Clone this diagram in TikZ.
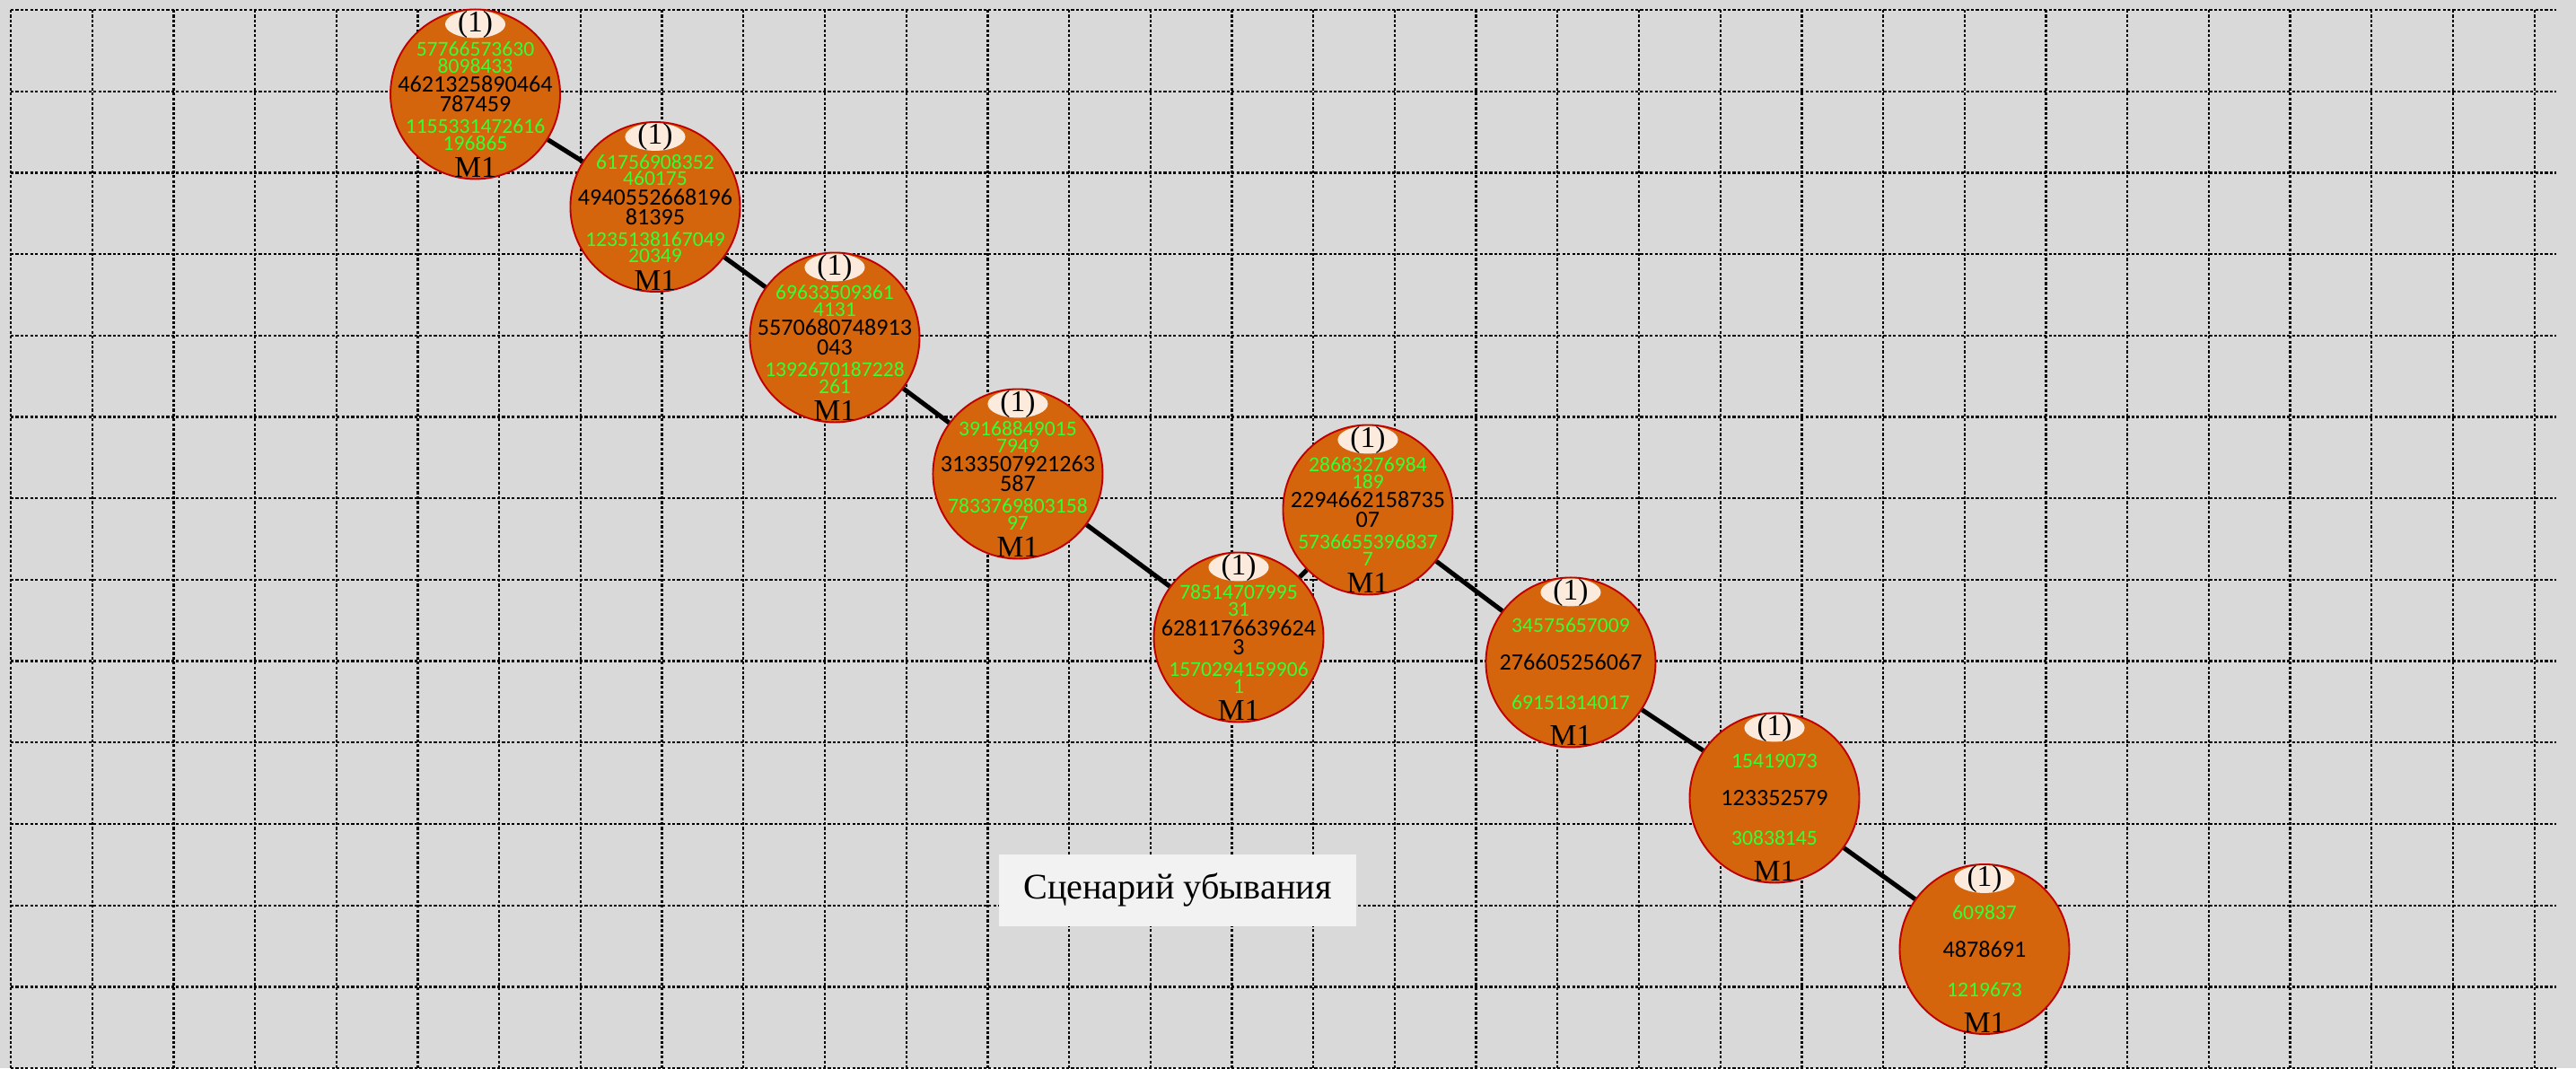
\documentclass[tikz,border=0pt]{standalone}
\usepackage{fontspec}
\setmainfont{Liberation Serif}
\newfontfamily\numfont{Carlito}
\usetikzlibrary{shapes.geometric}

\definecolor{bggray}{HTML}{D9D9D9}
\definecolor{ballfill}{HTML}{D4650C}
\definecolor{ballline}{HTML}{C00000}
\definecolor{capfill}{HTML}{FCEBDD}
\definecolor{numgreen}{HTML}{33FF33}
\definecolor{boxgray}{HTML}{F2F2F2}

\tikzset{
  gridline/.style={line width=0.75pt, dash pattern=on 1pt off 0.7pt},
  ball/.style={circle, fill=ballfill, draw=ballline, line width=0.6pt, minimum size=2.084cm, inner sep=0pt,
    align=center, font=\numfont\fontsize{8.2}{6.8}\selectfont},
  topnum/.style={yshift=0.452cm, inner sep=0pt, align=center, text=numgreen, font=\numfont\fontsize{7.4}{5.9}\selectfont},
  botnum/.style={yshift=-0.496cm, inner sep=0pt, align=center, text=numgreen, font=\numfont\fontsize{7.4}{5.9}\selectfont},
  capsule/.style={ellipse, yshift=0.86cm, fill=capfill, minimum width=0.74cm, minimum height=0.34cm, inner sep=0pt,
    label={[font=\fontsize{10.5}{12}\selectfont]center:{(1)}}},
  mark1/.style={anchor=base, yshift=-1.025cm, inner sep=0pt, font=\fontsize{10.5}{12}\selectfont},
  link/.style={line width=1.6pt},
  titlebox/.style={fill=boxgray, minimum width=4.385cm, minimum height=0.879cm, inner sep=0pt, font=\fontsize{12.6}{15}\selectfont}
}

\begin{document}
\begin{tikzpicture}
\useasboundingbox[fill=bggray] (-0.1323,0.1213) rectangle (31.511,-13.0);

% grid
\foreach \x in {0,...,31} \draw[gridline] (\x,0) -- (\x,-13);
\foreach \y in {0,...,13} \draw[gridline] (0,-\y) -- (31.27,-\y);

% stages
\node[ball] (st1) at (5.706,-1.036) {4621325890464\\787459};
\node[topnum] (st1t) at (st1) {57766573630\\8098433};
\node[botnum] (st1b) at (st1) {1155331472616\\196865};
\node[capsule] (st1c) at (st1) {};
\node[mark1] (st1m) at (st1) {M1};

\node[ball] (st2) at (7.916,-2.420) {4940552668196\\81395};
\node[topnum] (st2t) at (st2) {61756908352\\460175};
\node[botnum] (st2b) at (st2) {1235138167049\\20349};
\node[capsule] (st2c) at (st2) {};
\node[mark1] (st2m) at (st2) {M1};

\node[ball] (st3) at (10.121,-4.024) {5570680748913\\043};
\node[topnum] (st3t) at (st3) {69633509361\\4131};
\node[botnum] (st3b) at (st3) {1392670187228\\261};
\node[capsule] (st3c) at (st3) {};
\node[mark1] (st3m) at (st3) {M1};

\node[ball] (st4) at (12.370,-5.700) {3133507921263\\587};
\node[topnum] (st4t) at (st4) {39168849015\\7949};
\node[botnum] (st4b) at (st4) {7833769803158\\97};
\node[capsule] (st4c) at (st4) {};
\node[mark1] (st4m) at (st4) {M1};

\node[ball] (st5) at (15.083,-7.707) {6281176639624\\3};
\node[topnum] (st5t) at (st5) {78514707995\\31};
\node[botnum] (st5b) at (st5) {1570294159906\\1};
\node[capsule] (st5c) at (st5) {};
\node[mark1] (st5m) at (st5) {M1};

\node[ball] (st6) at (16.670,-6.141) {2294662158735\\07};
\node[topnum] (st6t) at (st6) {28683276984\\189};
\node[botnum] (st6b) at (st6) {5736655396837\\7};
\node[capsule] (st6c) at (st6) {};
\node[mark1] (st6m) at (st6) {M1};

\node[ball] (st7) at (19.162,-8.015) {276605256067};
\node[topnum] (st7t) at (st7) {34575657009};
\node[botnum] (st7b) at (st7) {69151314017};
\node[capsule] (st7c) at (st7) {};
\node[mark1] (st7m) at (st7) {M1};

\node[ball] (st8) at (21.665,-9.680) {123352579};
\node[topnum] (st8t) at (st8) {15419073};
\node[botnum] (st8b) at (st8) {30838145};
\node[capsule] (st8c) at (st8) {};
\node[mark1] (st8m) at (st8) {M1};

\node[ball] (st9) at (24.245,-11.538) {4878691};
\node[topnum] (st9t) at (st9) {609837};
\node[botnum] (st9b) at (st9) {1219673};
\node[capsule] (st9c) at (st9) {};
\node[mark1] (st9m) at (st9) {M1};

\node[titlebox] (title) at (14.333,-10.815) {Сценарий убывания};

\draw[link] (st1)--(st2);
\draw[link] (st2)--(st3);
\draw[link] (st3)--(st4);
\draw[link] (st4)--(st5);
\draw[link] (st5)--(st6);
\draw[link] (st6)--(st7);
\draw[link] (st7)--(st8);
\draw[link] (st8)--(st9);
\end{tikzpicture}
\end{document}
